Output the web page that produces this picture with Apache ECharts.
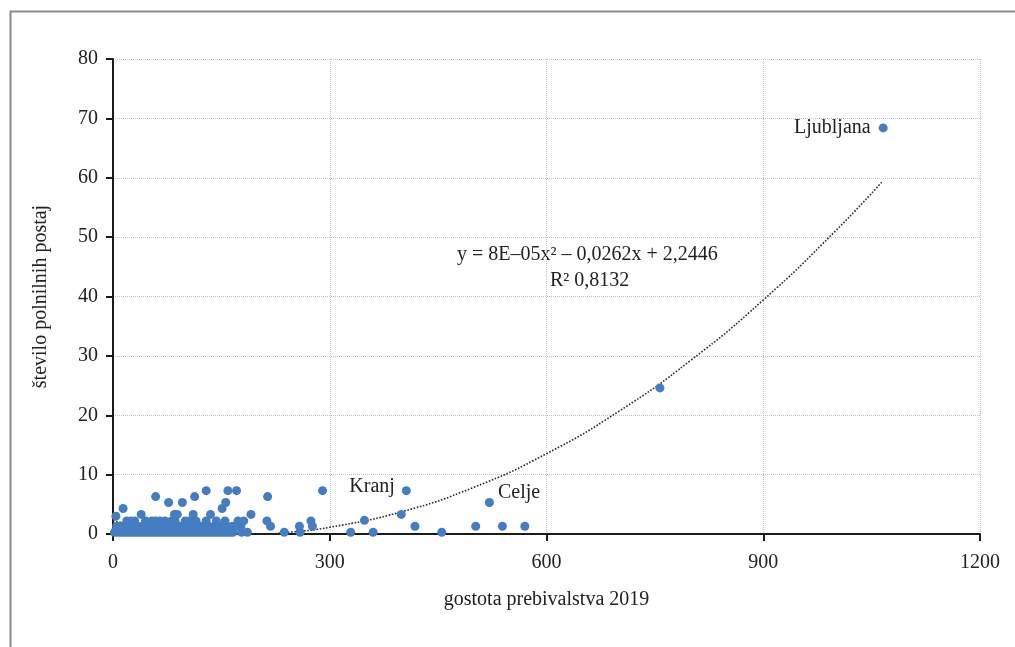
<!DOCTYPE html>
<html>
<head>
<meta charset="utf-8">
<script src="https://cdn.jsdelivr.net/npm/echarts@6/dist/echarts.min.js"></script>
<style>
  html, body { margin: 0; padding: 0; background: #fff; }
  #chart { width: 1015px; height: 647px; }
</style>
</head>
<body>
<div id="chart"></div>
<script>
// municipalities: population density 2019 vs. number of charging stations
const pointsX = [
  2, 6, 10, 14, 18, 22, 26, 30, 34, 38, 42, 46, 50, 54, 58, 62, 66, 70, 74, 78, 82, 86, 90, 94, 98,
  102, 106, 110, 114, 118, 122, 126, 130, 134, 138, 142, 146, 150, 154, 158, 162, 166, 178, 186,
  237, 259, 329, 360, 455,
  5, 12, 20, 27, 33, 40, 47, 52, 58, 64, 70, 76, 82, 88, 94, 100, 107, 112, 118, 123, 132, 140, 148,
  156, 165, 171, 177, 218, 258, 276, 418, 502, 539, 570,
  19, 25, 30, 45, 54, 59, 65, 72, 81, 86, 100, 106, 115, 129, 143, 155, 173, 181, 213, 274, 348,
  4, 39, 85, 89, 111, 135, 191, 399,
  14, 151,
  77, 96, 156,
  59, 113, 214,
  129, 159, 171, 290,
  757
];
const pointsY = [
  0.3, 0.3, 0.3, 0.3, 0.3, 0.3, 0.3, 0.3, 0.3, 0.3, 0.3, 0.3, 0.3, 0.3, 0.3, 0.3, 0.3, 0.3, 0.3, 0.3, 0.3, 0.3, 0.3, 0.3, 0.3,
  0.3, 0.3, 0.3, 0.3, 0.3, 0.3, 0.3, 0.3, 0.3, 0.3, 0.3, 0.3, 0.3, 0.3, 0.3, 0.3, 0.3, 0.3, 0.3,
  0.3, 0.3, 0.3, 0.3, 0.3,
  1.3, 1.3, 1.3, 1.3, 1.3, 1.3, 1.3, 1.3, 1.3, 1.3, 1.3, 1.3, 1.3, 1.3, 1.3, 1.3, 1.3, 1.3, 1.3, 1.3, 1.3, 1.3, 1.3,
  1.3, 1.3, 1.3, 1.3, 1.3, 1.3, 1.3, 1.3, 1.3, 1.3, 1.3,
  2.2, 2.2, 2.2, 2.2, 2.2, 2.2, 2.2, 2.2, 2.2, 2.2, 2.2, 2.2, 2.2, 2.2, 2.2, 2.2, 2.2, 2.2, 2.2, 2.2, 2.3,
  3.0, 3.3, 3.3, 3.3, 3.3, 3.3, 3.3, 3.3,
  4.3, 4.3,
  5.3, 5.3, 5.3,
  6.3, 6.3, 6.3,
  7.3, 7.3, 7.3, 7.3,
  24.6
];

const townNames = ["Ljubljana", "Kranj", "Celje"];
const townX = [1066, 406, 521];
const townY = [68.4, 7.3, 5.3];

// dotted polynomial trend line
const trendX = [0, 50, 100, 150, 200, 250, 300, 400, 500, 600, 700, 800, 900, 1000, 1065];
const trendY = [2.24, 1.12, 0.37, 0.0, 0.0, 0.37, 1.13, 3.76, 7.89, 13.52, 20.65, 29.28, 39.41, 51.04, 59.4];

const equationText = "y = 8E–05x² – 0,0262x + 2,2446";
const r2Text = "R² 0,8132";

const FONT = "Liberation Serif";
const FS = 20;
const DOT = "#447dc2";
const GRID = "#c2c2c2";

const chart = echarts.init(document.getElementById("chart"));

const townLabel = [
  { position: "left", distance: 8, offset: [0, 0] },
  { position: "left", distance: 7, offset: [0, -4] },
  { position: "right", distance: 4, offset: [0, -10] }
];

chart.setOption({
  animation: false,
  textStyle: { fontFamily: FONT },
  grid: { left: 113, right: 35, top: 59, bottom: 113 },
  graphic: [
    {
      type: "rect",
      left: 8, top: 9,
      shape: { width: 1100, height: 720 },
      style: { fill: "none", stroke: "#8a8a8a", lineWidth: 2 },
      silent: true
    },
    {
      type: "text",
      left: 457, top: 245,
      style: { text: equationText, font: `${FS}px "${FONT}"`, fill: "#222" }
    },
    {
      type: "text",
      left: 550, top: 271,
      style: { text: r2Text, font: `${FS}px "${FONT}"`, fill: "#222" }
    }
  ],
  xAxis: {
    type: "value",
    min: 0,
    max: 1200,
    interval: 300,
    name: "gostota prebivalstva 2019",
    nameLocation: "middle",
    nameGap: 56,
    nameTextStyle: { color: "#222", fontSize: FS, fontFamily: FONT },
    axisLine: { lineStyle: { color: "#1a1a1a", width: 2 } },
    axisTick: { show: true, length: 7, lineStyle: { color: "#1a1a1a", width: 2 } },
    axisLabel: { color: "#222", fontSize: FS, fontFamily: FONT, margin: 19, formatter: (v) => String(v) },
    splitLine: { show: true, lineStyle: { color: GRID, type: "dotted", width: 1 } }
  },
  yAxis: {
    type: "value",
    min: 0,
    max: 80,
    interval: 10,
    name: "število polnilnih postaj",
    nameLocation: "middle",
    nameGap: 62,
    nameTextStyle: { color: "#222", fontSize: FS, fontFamily: FONT },
    axisLine: { show: true, lineStyle: { color: "#1a1a1a", width: 2 } },
    axisTick: { show: true, length: 7, lineStyle: { color: "#1a1a1a", width: 2 } },
    axisLabel: { color: "#222", fontSize: FS, fontFamily: FONT, margin: 15 },
    splitLine: { show: true, lineStyle: { color: GRID, type: "dotted", width: 1 } }
  },
  series: [
    {
      type: "line",
      data: trendX.map((x, i) => [x, trendY[i]]),
      smooth: true,
      symbol: "none",
      silent: true,
      z: 1,
      lineStyle: { color: "#2a2a2a", width: 1.6, type: "dotted" }
    },
    {
      type: "scatter",
      symbolSize: 9,
      z: 3,
      itemStyle: { color: DOT, opacity: 1 },
      data: pointsX.map((x, i) => [x, pointsY[i]])
    },
    {
      type: "scatter",
      symbolSize: 9,
      z: 3,
      itemStyle: { color: DOT, opacity: 1 },
      data: townNames.map((name, i) => ({
        name,
        value: [townX[i], townY[i]],
        label: {
          show: true,
          formatter: name,
          color: "#222",
          fontSize: FS,
          fontFamily: FONT,
          ...townLabel[i]
        }
      }))
    }
  ]
});
</script>
</body>
</html>
